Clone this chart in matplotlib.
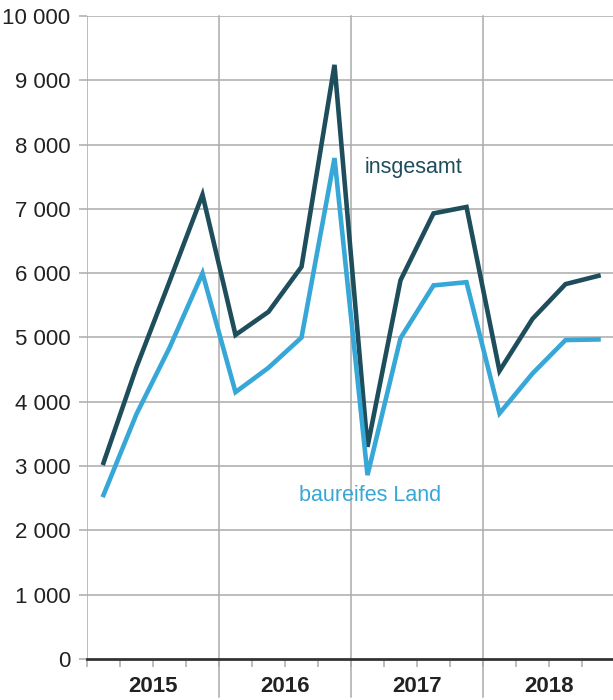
import numpy as np
import matplotlib.pyplot as plt

plt.rcParams['font.family'] = ['Liberation Sans', 'DejaVu Sans']

# Daten (Quartale 2015-2018)
jahre = ['2015', '2016', '2017', '2018']
insgesamt = [3050, 4540, 5870, 7220,
             5040, 5400, 6100, 9240,
             3300, 5890, 6930, 7030,
             4480, 5290, 5830, 5960]
baureif = [2550, 3810, 4840, 6000,
           4150, 4530, 5000, 7790,
           2860, 4990, 5810, 5860,
           3820, 4440, 4960, 4970]

dunkel = '#1e4d5b'
hell = '#36a7d6'
grau = '#ababab'

fig = plt.figure(figsize=(6.13, 7.0), dpi=100)
ax = fig.add_axes([87 / 613, 1 - 659 / 700, 526 / 613, 643 / 700])

x = np.arange(len(insgesamt)) + 0.5
ax.plot(x, insgesamt, color=dunkel, lw=3.3, solid_joinstyle='miter', zorder=3)
ax.plot(x, baureif, color=hell, lw=3.3, solid_joinstyle='miter', zorder=3)

ax.set_xlim(0, 526 / 33)
ax.set_ylim(0, 10000)

# Gitter
yticks = np.arange(0, 10001, 1000)
for yv in yticks[1:]:
    ax.axhline(yv, color=grau, lw=1.1, zorder=1)
ax.axvline(0, color=grau, lw=1.1, zorder=1)
for k in range(1, len(jahre)):
    ax.axvline(4 * k, ymin=-38 / 643, ymax=1, color=grau, lw=1.1,
               clip_on=False, zorder=1)
ax.axhline(0, color='#333333', lw=2.0, zorder=4, clip_on=False)

for s in ax.spines.values():
    s.set_visible(False)

ax.set_yticks(yticks)
ax.set_yticklabels([f'{v:,}'.replace(',', ' ') for v in yticks], fontsize=16, color='#222222')
ax.tick_params(axis='y', length=6, width=1.1, color=grau, pad=6)

ax.set_xticks(np.arange(0, 16, 1))
ax.set_xticklabels([])
ax.tick_params(axis='x', length=6, width=1.1, color=grau)

for i, j in enumerate(jahre):
    ax.text(4 * i + 2, -27 / 64.3 * 1000, j, ha='center', va='center',
            fontsize=16, fontweight='bold', color='#222222')

ax.text(9.9, 7650, 'insgesamt', color=dunkel, fontsize=15.5, ha='center', va='center')
ax.text(8.58, 2535, 'baureifes Land', color=hell, fontsize=15.5, ha='center', va='center')

fig.savefig('out.png', dpi=100)
